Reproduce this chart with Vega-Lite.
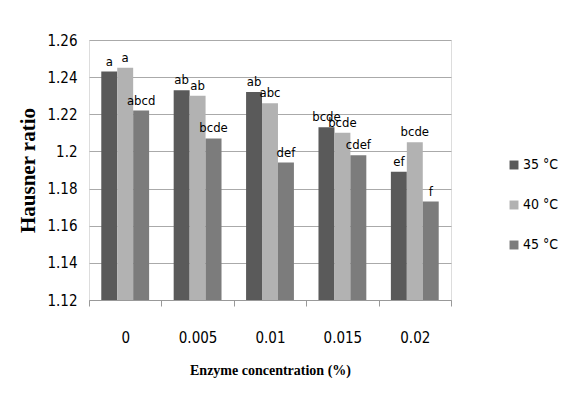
{
  "$schema": "https://vega.github.io/schema/vega-lite/v6.json",
  "width": 362,
  "height": 260,
  "autosize": {"type": "none"},
  "padding": {"left": 89, "top": 40, "right": 112, "bottom": 107},
  "background": "white",
  "data": {
    "values": [
      {"conc": "0", "temp": "35 °C", "value": 1.243, "label": "a"},
      {"conc": "0", "temp": "40 °C", "value": 1.245, "label": "a"},
      {"conc": "0", "temp": "45 °C", "value": 1.222, "label": "abcd"},
      {"conc": "0.005", "temp": "35 °C", "value": 1.233, "label": "ab"},
      {"conc": "0.005", "temp": "40 °C", "value": 1.230, "label": "ab"},
      {"conc": "0.005", "temp": "45 °C", "value": 1.207, "label": "bcde"},
      {"conc": "0.01", "temp": "35 °C", "value": 1.232, "label": "ab"},
      {"conc": "0.01", "temp": "40 °C", "value": 1.226, "label": "abc"},
      {"conc": "0.01", "temp": "45 °C", "value": 1.194, "label": "def"},
      {"conc": "0.015", "temp": "35 °C", "value": 1.213, "label": "bcde"},
      {"conc": "0.015", "temp": "40 °C", "value": 1.210, "label": "bcde"},
      {"conc": "0.015", "temp": "45 °C", "value": 1.198, "label": "cdef"},
      {"conc": "0.02", "temp": "35 °C", "value": 1.189, "label": "ef"},
      {"conc": "0.02", "temp": "40 °C", "value": 1.205, "label": "bcde"},
      {"conc": "0.02", "temp": "45 °C", "value": 1.173, "label": "f"}
    ]
  },
  "encoding": {
    "x": {
      "field": "conc",
      "type": "nominal",
      "sort": null,
      "scale": {"paddingInner": 0, "paddingOuter": 0},
      "axis": {
        "title": "Enzyme concentration (%)",
        "labelAngle": 0,
        "labelFont": "DejaVu Sans Condensed",
        "labelFontSize": 15,
        "labelColor": "#000000",
        "labelPadding": 24,
        "tickBand": "extent",
        "tickSize": 6,
        "tickColor": "#999999",
        "domainColor": "#999999",
        "titleFont": "Liberation Serif",
        "titleFontSize": 14,
        "titleFontWeight": "bold",
        "titleColor": "#000000",
        "titlePadding": 18
      }
    },
    "xOffset": {
      "field": "temp",
      "scale": {"paddingInner": 0, "paddingOuter": 0.77}
    },
    "y": {
      "field": "value",
      "type": "quantitative",
      "scale": {"domain": [1.12, 1.26], "zero": false, "nice": false},
      "axis": {
        "title": "Hausner ratio",
        "values": [1.12, 1.14, 1.16, 1.18, 1.2, 1.22, 1.24, 1.26],
        "format": "~g",
        "domain": false,
        "ticks": false,
        "grid": true,
        "gridColor": "#aaaaaa",
        "labelFont": "DejaVu Sans Condensed",
        "labelFontSize": 15,
        "labelColor": "#000000",
        "labelPadding": 12,
        "titleFont": "Liberation Serif",
        "titleFontSize": 21,
        "titleFontWeight": "bold",
        "titleColor": "#000000",
        "titlePadding": 8
      }
    }
  },
  "layer": [
    {
      "mark": {"type": "bar", "clip": true},
      "encoding": {
        "color": {
          "field": "temp",
          "type": "nominal",
          "scale": {"range": ["#5a5a5a", "#b2b2b2", "#7c7c7c"]},
          "legend": {
            "title": null,
            "orient": "none",
            "legendX": 418,
            "legendY": 118,
            "symbolType": "square",
            "symbolSize": 80,
            "symbolStrokeWidth": 0,
            "labelFont": "DejaVu Sans Condensed",
            "labelFontSize": 14,
            "labelColor": "#000000",
            "rowPadding": 26,
            "labelOffset": 2
          }
        }
      }
    },
    {
      "mark": {
        "type": "text",
        "baseline": "bottom",
        "dy": -3,
        "font": "DejaVu Sans Condensed",
        "fontSize": 13,
        "color": "#000000"
      },
      "encoding": {"text": {"field": "label"}}
    }
  ]
}
